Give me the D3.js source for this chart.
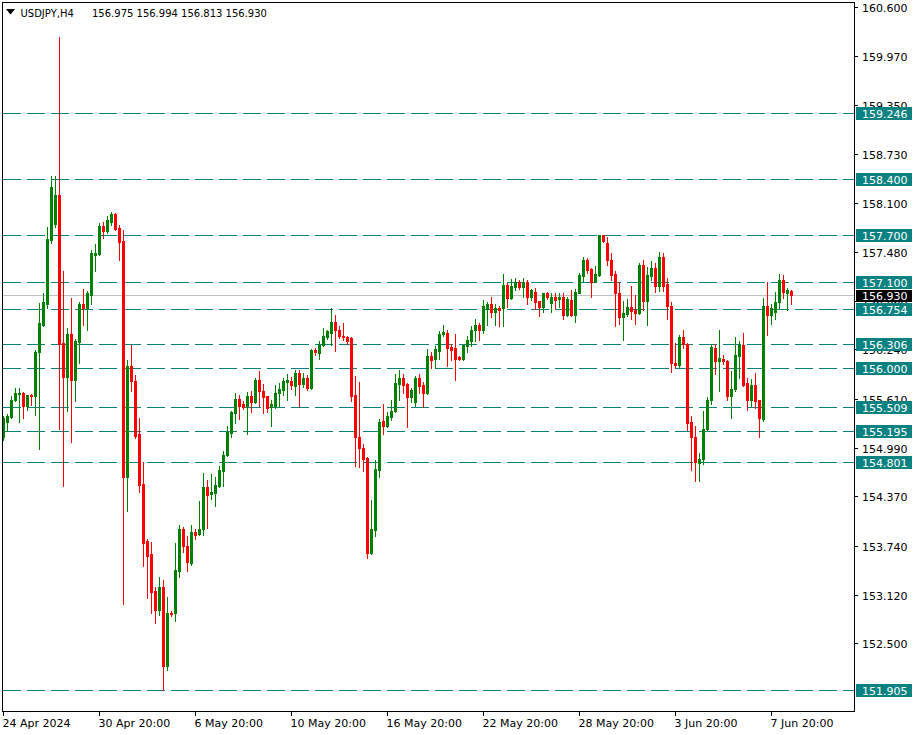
<!DOCTYPE html>
<html><head><meta charset="utf-8">
<script src="https://cdn.jsdelivr.net/npm/d3@7"></script>
<style>html,body{margin:0;padding:0;background:#fff;} svg{display:block;}</style>
</head><body>
<script>
// ---------------- DATA ----------------
const symbolTitle = "USDJPY,H4";
const titleValues = "156.975 156.994 156.813 156.930";

const openP = [155.13,155.32,155.38,155.59,155.67,155.69,155.52,155.66,155.64,156.20,
156.55,156.82,157.63,157.84,158.20,156.32,155.89,156.43,155.85,156.33,
156.82,156.76,156.93,157.44,157.45,157.81,157.75,157.86,157.96,157.78,
157.62,154.61,156.03,155.84,155.16,154.52,153.80,153.64,153.16,152.92,
153.21,152.21,152.89,152.89,153.42,153.95,153.74,153.52,153.92,153.89,
153.95,154.49,154.40,154.41,154.50,154.69,154.89,155.17,155.43,155.61,
155.55,155.52,155.65,155.57,155.85,155.71,155.64,155.51,155.52,155.68,
155.72,155.82,155.83,155.77,155.94,155.80,155.88,155.75,156.23,156.19,
156.29,156.40,156.45,156.59,156.49,156.41,156.40,156.38,155.66,155.13,
154.99,154.86,153.65,153.94,154.71,155.33,155.26,155.38,155.45,155.80,
155.88,155.80,155.63,155.57,155.88,155.79,155.68,156.16,156.11,156.22,
156.43,156.45,156.27,156.25,156.14,156.12,156.28,156.35,156.48,156.55,
156.49,156.75,156.81,156.72,156.77,156.76,157.06,156.89,157.03,157.09,
157.03,157.09,156.91,156.97,156.85,156.78,156.96,156.83,156.90,156.88,
156.91,156.68,156.87,156.67,156.96,157.17,157.38,157.26,157.10,157.19,
157.69,157.59,157.38,157.20,156.95,156.65,156.69,156.78,156.74,156.70,
157.31,156.86,157.17,157.28,157.04,157.42,157.07,156.79,156.07,156.04,
156.40,156.31,155.32,155.13,154.79,154.84,155.22,155.59,156.26,156.09,
156.12,156.09,155.65,155.73,156.16,156.29,155.81,155.59,155.78,155.59,
155.35,156.79,156.67,156.71,156.84,157.12,156.96,156.975];

const highP = [155.39,155.42,155.64,155.75,155.75,155.70,155.66,155.67,156.23,156.83,
156.96,157.79,158.45,158.45,160.21,157.24,156.51,156.89,156.37,156.84,
157.01,156.98,157.50,157.58,157.85,157.86,157.94,157.99,157.98,157.82,
157.76,156.10,156.29,155.91,155.36,154.80,153.83,153.79,153.22,153.34,
153.31,153.09,152.91,153.77,154.01,153.98,153.86,154.01,153.95,154.31,
154.66,154.58,154.65,154.61,154.76,154.94,155.27,155.46,155.69,155.66,
155.58,155.70,155.71,155.88,155.96,155.80,155.65,155.60,155.78,155.81,
155.87,155.92,155.89,155.98,155.97,155.94,155.91,156.24,156.26,156.34,
156.51,156.49,156.77,156.67,156.54,156.57,156.41,156.40,155.90,155.82,
155.04,154.87,154.32,154.83,155.35,155.55,155.44,155.60,155.93,155.98,
155.93,155.81,155.75,155.90,155.93,155.82,156.24,156.21,156.28,156.47,
156.55,156.48,156.31,156.44,156.15,156.30,156.41,156.54,156.62,156.58,
156.87,156.84,156.90,156.81,156.79,157.20,157.08,157.13,157.15,157.12,
157.15,157.12,157.01,157.02,156.86,156.96,156.97,156.95,156.95,156.95,
156.95,156.91,157.00,157.01,157.21,157.42,157.40,157.28,157.30,157.70,
157.70,157.67,157.46,157.24,157.10,156.86,156.88,157.04,156.93,157.34,
157.38,157.29,157.36,157.34,157.48,157.46,157.15,156.84,156.32,156.42,
156.49,156.32,155.39,155.26,154.92,155.45,155.63,156.31,156.31,156.49,
156.17,156.10,155.96,156.39,156.35,156.45,155.88,155.86,155.94,155.60,
156.89,157.09,156.82,156.97,157.20,157.19,157.02,156.994];

const lowP = [155.08,155.20,155.36,155.58,155.32,155.37,155.47,155.53,155.41,154.97,
156.54,156.77,157.59,157.80,155.22,154.50,155.45,155.06,155.58,156.07,
156.55,156.48,156.82,157.24,157.44,157.65,157.72,157.82,157.76,157.38,
153.00,154.18,155.71,155.11,154.42,153.48,153.07,152.89,152.76,152.86,
151.90,152.16,152.85,152.78,153.34,153.66,153.42,153.50,153.82,153.88,
153.88,153.97,154.33,154.24,154.49,154.50,154.88,155.13,155.30,155.35,
155.48,155.16,155.44,155.56,155.52,155.43,155.44,155.26,155.49,155.51,
155.66,155.60,155.73,155.66,155.51,155.76,155.72,155.74,156.17,156.12,
156.28,156.37,156.30,156.22,156.38,156.36,156.31,155.58,154.75,154.74,
154.69,153.59,153.63,153.86,154.61,155.16,155.25,155.34,155.44,155.60,
155.69,155.25,155.57,155.52,155.68,155.51,155.67,156.00,156.00,156.11,
156.41,156.03,156.10,155.85,156.10,156.10,156.21,156.28,156.35,156.36,
156.45,156.55,156.65,156.55,156.53,156.53,156.78,156.88,157.00,157.01,
156.91,156.82,156.87,156.75,156.66,156.72,156.88,156.71,156.75,156.78,
156.62,156.66,156.66,156.59,156.95,157.11,157.21,156.90,157.09,157.17,
157.61,157.31,157.12,156.53,156.56,156.36,156.66,156.62,156.56,156.69,
156.74,156.55,157.12,156.97,156.98,156.98,156.63,155.95,156.00,156.00,
156.25,155.21,154.70,154.56,154.56,154.78,155.21,155.54,155.93,155.71,
156.05,155.59,155.36,155.71,155.88,155.77,155.47,155.52,155.49,155.12,
155.33,156.42,156.56,156.62,156.77,156.89,156.74,156.813];

const closeP = [155.37,155.39,155.60,155.68,155.69,155.52,155.66,155.64,156.21,156.57,
156.84,157.64,158.30,158.20,156.31,155.89,156.43,155.85,156.34,156.82,
156.76,156.95,157.47,157.47,157.81,157.74,157.88,157.96,157.77,157.61,
154.61,156.03,155.83,155.14,154.51,153.78,153.61,153.15,152.92,153.21,
152.21,152.88,152.87,153.43,153.95,153.74,153.53,153.92,153.88,153.95,
154.49,154.39,154.42,154.51,154.70,154.90,155.19,155.44,155.61,155.52,
155.50,155.64,155.57,155.85,155.71,155.63,155.49,155.54,155.68,155.73,
155.83,155.85,155.79,155.94,155.80,155.88,155.75,156.23,156.20,156.30,
156.41,156.47,156.59,156.48,156.41,156.39,156.35,155.65,155.12,154.98,
154.85,153.65,153.95,154.72,155.32,155.26,155.39,155.46,155.81,155.88,
155.79,155.63,155.72,155.88,155.77,155.69,156.16,156.10,156.24,156.44,
156.46,156.26,156.23,156.12,156.12,156.29,156.36,156.49,156.55,156.49,
156.79,156.81,156.72,156.77,156.74,157.06,156.89,157.05,157.09,157.03,
157.08,156.91,157.00,156.84,156.78,156.96,156.90,156.91,156.87,156.91,
156.68,156.88,156.67,156.97,157.19,157.38,157.25,157.10,157.20,157.69,
157.62,157.37,157.19,156.95,156.65,156.70,156.78,156.73,156.70,157.31,
156.86,157.19,157.28,157.04,157.42,157.05,156.79,156.07,156.04,156.40,
156.31,155.30,155.12,154.80,154.85,155.23,155.60,156.27,156.09,156.13,
156.09,155.65,155.74,156.17,156.29,155.79,155.60,155.78,155.58,155.36,
156.79,156.67,156.77,156.84,157.12,156.97,156.99,156.930];

const timeLabels = ["24 Apr 2024","30 Apr 20:00","6 May 20:00","10 May 20:00","16 May 20:00",
                    "22 May 20:00","28 May 20:00","3 Jun 20:00","7 Jun 20:00"];
const timeLabelBar = [0,24,48,72,96,120,144,168,192];
const priceTicks = ["160.600","159.970","159.350","158.730","158.100","157.480","156.860",
                    "156.240","155.610","154.990","154.370","153.740","153.120","152.500"];
const levels = [159.246,158.400,157.700,157.100,156.754,156.306,156.000,155.509,155.195,154.801,151.905];
const bidPrice = 156.930;

// ---------------- CHART ----------------
const W = 918, H = 735;
const teal = "#0b8282", up = "#008000", down = "#ff0000";
const font = "'DejaVu Sans', sans-serif";

const svg = d3.select("body").append("svg").attr("width", W).attr("height", H)
  .style("background", "#fff");

const x = d3.scaleLinear().domain([0, 212]).range([3.5, 851.5]);
const y = d3.scaleLinear().domain([151.905, 159.246]).range([690.5, 113.5]);
const py = p => Math.round(y(p) - 0.5);
const px = i => Math.floor(x(i));

const plot = svg.append("g");
svg.append("clipPath").attr("id", "clip").append("rect")
  .attr("x", 3).attr("y", 3).attr("width", 851).attr("height", 708);
plot.attr("clip-path", "url(#clip)");

// level lines
plot.selectAll("line.lvl").data(levels).join("line")
  .attr("x1", 3).attr("x2", 858)
  .attr("y1", d => py(d) + 0.5).attr("y2", d => py(d) + 0.5)
  .attr("stroke", teal).attr("stroke-width", 1)
  .attr("stroke-dasharray", "18,6").attr("shape-rendering", "crispEdges");

// bid line
plot.append("line").attr("x1", 3).attr("x2", 854)
  .attr("y1", py(bidPrice) + 0.5).attr("y2", py(bidPrice) + 0.5)
  .attr("stroke", "#c0c0c0").attr("shape-rendering", "crispEdges");

// candles
const bars = d3.range(openP.length).map(i => ({
  i, o: openP[i], h: highP[i], l: lowP[i], c: closeP[i]
}));
const cg = plot.append("g").attr("shape-rendering", "crispEdges");
const cand = cg.selectAll("g").data(bars).join("g")
  .attr("fill", d => d.c >= d.o ? up : down);
cand.append("rect")
  .attr("x", d => px(d.i)).attr("width", 1)
  .attr("y", d => py(Math.max(d.h, d.o, d.c)))
  .attr("height", d => py(Math.min(d.l, d.o, d.c)) - py(Math.max(d.h, d.o, d.c)) + 1);
cand.append("rect")
  .attr("x", d => px(d.i) - 1).attr("width", 3)
  .attr("y", d => py(Math.max(d.o, d.c)))
  .attr("height", d => Math.max(1, py(Math.min(d.o, d.c)) - py(Math.max(d.o, d.c)) + 1));

// frame
svg.append("rect").attr("x", 2.5).attr("y", 2.5).attr("width", 852).attr("height", 709)
  .attr("fill", "none").attr("stroke", "#000").attr("shape-rendering", "crispEdges");

// price axis
const ya = svg.append("g");
ya.selectAll("line").data(priceTicks).join("line")
  .attr("x1", 855).attr("x2", 858)
  .attr("y1", d => py(+d) + 0.5).attr("y2", d => py(+d) + 0.5)
  .attr("stroke", "#000").attr("shape-rendering", "crispEdges");
ya.selectAll("text").data(priceTicks).join("text")
  .attr("x", 862).attr("y", d => py(+d) + 4.5)
  .attr("font-family", font).attr("font-size", 11).attr("fill", "#000")
  .text(d => d);

// level labels
const lg = svg.append("g");
lg.selectAll("rect").data(levels).join("rect")
  .attr("x", 856).attr("width", 56).attr("y", d => py(d) - 6).attr("height", 13)
  .attr("fill", teal);
lg.selectAll("text").data(levels).join("text")
  .attr("x", 862).attr("y", d => py(d) + 4.5)
  .attr("font-family", font).attr("font-size", 11).attr("fill", "#fff")
  .text(d => d.toFixed(3));

// bid label
svg.append("rect").attr("x", 856).attr("width", 56).attr("y", py(bidPrice) - 5).attr("height", 12)
  .attr("fill", "#000");
svg.append("text").attr("x", 862).attr("y", py(bidPrice) + 4.5)
  .attr("font-family", font).attr("font-size", 11).attr("fill", "#fff")
  .text(bidPrice.toFixed(3));

// time axis
const xa = svg.append("g");
xa.selectAll("line").data(timeLabelBar).join("line")
  .attr("x1", d => px(d) + 0.5).attr("x2", d => px(d) + 0.5)
  .attr("y1", 712).attr("y2", 716)
  .attr("stroke", "#000").attr("shape-rendering", "crispEdges");
xa.selectAll("text").data(timeLabelBar).join("text")
  .attr("x", d => px(d) - 0.5).attr("y", 727)
  .attr("font-family", font).attr("font-size", 11).attr("fill", "#000")
  .text((d, k) => timeLabels[k]);

// title
svg.append("path").attr("d", "M6,9 L15,9 L10.5,14.5 Z").attr("fill", "#000");
svg.append("text").attr("x", 20.5).attr("y", 16.5)
  .attr("font-family", font).attr("font-size", 10).attr("fill", "#000")
  .text(symbolTitle);
svg.append("text").attr("x", 92).attr("y", 16.5)
  .attr("font-family", font).attr("font-size", 10).attr("fill", "#000")
  .text(titleValues);
</script>
</body></html>
